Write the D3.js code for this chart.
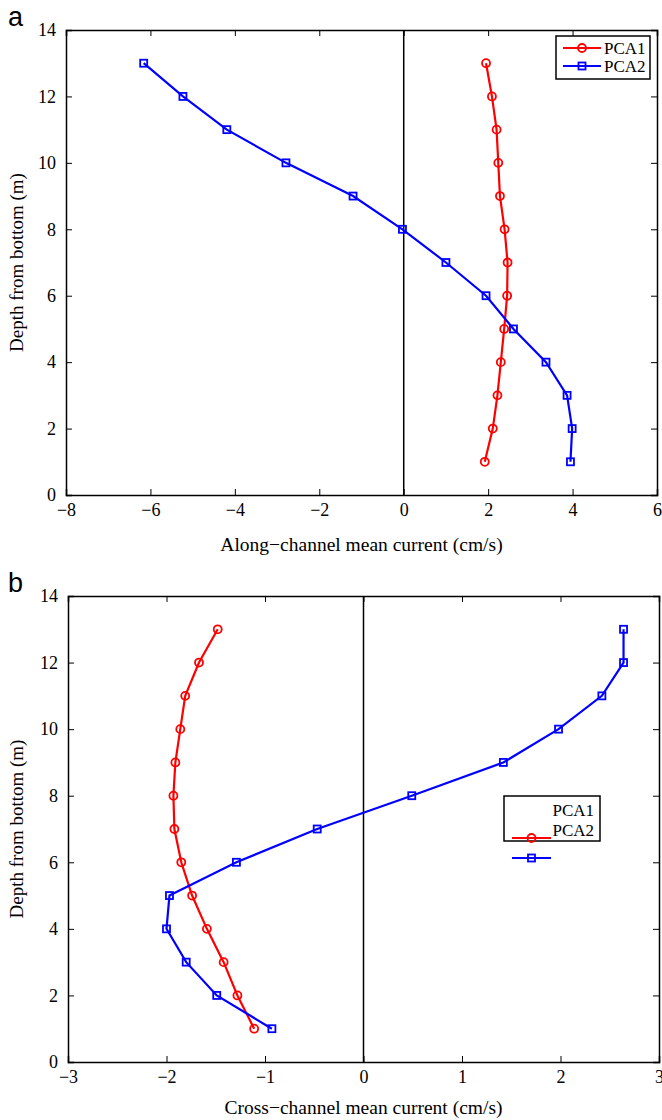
<!DOCTYPE html>
<html>
<head>
<meta charset="utf-8">
<script src="https://cdn.jsdelivr.net/npm/d3@7"></script>
<style>
body { margin: 0; background: #fff; }
svg { display: block; }
</style>
</head>
<body>
<svg id="chart" width="662" height="1120"></svg>
<script>
var depths = [1, 2, 3, 4, 5, 6, 7, 8, 9, 10, 11, 12, 13];
var alongPCA1 = [1.92, 2.11, 2.22, 2.30, 2.38, 2.45, 2.46, 2.39, 2.28, 2.24, 2.20, 2.09, 1.95];
var alongPCA2 = [3.95, 3.99, 3.87, 3.37, 2.60, 1.95, 1.00, -0.03, -1.20, -2.79, -4.19, -5.23, -6.16];
var crossPCA1 = [-1.11, -1.28, -1.42, -1.59, -1.74, -1.85, -1.92, -1.93, -1.91, -1.86, -1.81, -1.67, -1.48];
var crossPCA2 = [-0.93, -1.49, -1.80, -2.00, -1.97, -1.29, -0.47, 0.49, 1.42, 1.98, 2.42, 2.64, 2.64];
var alongTicks = [-8, -6, -4, -2, 0, 2, 4, 6];
var crossTicks = [-3, -2, -1, 0, 1, 2, 3];
var depthTicks = [0, 2, 4, 6, 8, 10, 12, 14];
var seriesNames = ["PCA1", "PCA2"];

var svg = d3.select("#chart");
var intFmt = d3.format("d");
var serif = "'Liberation Serif', 'DejaVu Serif', serif";

function drawPanel(cfg) {
    var x = d3.scaleLinear().domain(cfg.xDomain).range([cfg.left, cfg.right]);
    var y = d3.scaleLinear().domain([0, 14]).range([cfg.bottom, cfg.top]);
    var g = svg.append("g");

    // zero line
    g.append("line")
        .attr("x1", x(0)).attr("x2", x(0))
        .attr("y1", y(0)).attr("y2", y(14))
        .attr("stroke", "#000").attr("stroke-width", 1.5);

    var axes = [
        {axis: d3.axisBottom(x).tickValues(cfg.xTicks).tickSize(-6).tickPadding(8).tickFormat(intFmt), tr: "translate(0," + cfg.bottom + ")"},
        {axis: d3.axisTop(x).tickValues(cfg.xTicks).tickSize(-6).tickFormat(""), tr: "translate(0," + cfg.top + ")"},
        {axis: d3.axisLeft(y).tickValues(depthTicks).tickSize(-6).tickPadding(10).tickFormat(intFmt), tr: "translate(" + cfg.left + ",0)"},
        {axis: d3.axisRight(y).tickValues(depthTicks).tickSize(-6).tickFormat(""), tr: "translate(" + cfg.right + ",0)"}
    ];
    axes.forEach(function(a) {
        var ag = g.append("g").attr("transform", a.tr).call(a.axis)
            .attr("font-family", serif).attr("font-size", 18);
        ag.select(".domain").attr("stroke-width", 1.5);
        ag.selectAll(".tick line").attr("stroke-width", 1);
        ag.selectAll("text").attr("fill", "#000");
    });

    var line = d3.line()
        .x(function(d) { return x(d.v); })
        .y(function(d) { return y(d.depth); });

    var series = [
        {name: "PCA1", color: "#ff0000", values: cfg.s1, marker: "circle"},
        {name: "PCA2", color: "#0000ff", values: cfg.s2, marker: "square"}
    ];
    series.forEach(function(s) {
        var pts = depths.map(function(d, i) { return {depth: d, v: s.values[i]}; });
        g.append("path").datum(pts)
            .attr("d", line)
            .attr("fill", "none")
            .attr("stroke", s.color)
            .attr("stroke-width", 2.2);
        drawMarkers(g, pts.map(function(p) { return [x(p.v), y(p.depth)]; }), s);
    });

    // legend
    var lg = cfg.legend;
    g.append("rect")
        .attr("x", lg.x).attr("y", lg.y).attr("width", lg.w).attr("height", lg.h)
        .attr("fill", "#fff").attr("stroke", "#000").attr("stroke-width", 1.5);
    series.forEach(function(s, i) {
        var ly = lg.lineY + i * lg.step;
        g.append("line")
            .attr("x1", lg.lineX1).attr("x2", lg.lineX2)
            .attr("y1", ly).attr("y2", ly)
            .attr("stroke", s.color).attr("stroke-width", 2.2);
        drawMarkers(g, [[(lg.lineX1 + lg.lineX2) / 2, ly]], s);
        g.append("text")
            .attr("x", lg.textX).attr("y", lg.textY + i * lg.step)
            .attr("text-anchor", lg.anchor)
            .attr("font-family", serif).attr("font-size", 17)
            .text(seriesNames[i]);
    });

    // labels
    g.append("text")
        .attr("x", (cfg.left + cfg.right) / 2).attr("y", cfg.bottom + cfg.labelGap)
        .attr("text-anchor", "middle")
        .attr("font-family", serif).attr("font-size", 19.5)
        .text(cfg.xLabel);
    var cy = (cfg.top + cfg.bottom) / 2;
    g.append("text")
        .attr("transform", "translate(23," + cy + ") rotate(-90)")
        .attr("text-anchor", "middle")
        .attr("font-family", serif).attr("font-size", 19)
        .text("Depth from bottom (m)");
    g.append("text")
        .attr("x", 8).attr("y", cfg.top - 4)
        .attr("font-family", "'Liberation Sans', Arial, sans-serif").attr("font-size", 27)
        .text(cfg.tag);
}

function drawMarkers(g, pts, s) {
    if (s.marker === "circle") {
        g.selectAll(null).data(pts).enter().append("circle")
            .attr("cx", function(p) { return p[0]; })
            .attr("cy", function(p) { return p[1]; })
            .attr("r", 4)
            .attr("fill", "none").attr("stroke", s.color).attr("stroke-width", 1.8);
    } else {
        g.selectAll(null).data(pts).enter().append("rect")
            .attr("x", function(p) { return p[0] - 3.5; })
            .attr("y", function(p) { return p[1] - 3.5; })
            .attr("width", 7).attr("height", 7)
            .attr("fill", "none").attr("stroke", s.color).attr("stroke-width", 1.8);
    }
}

drawPanel({
    tag: "a", left: 66, right: 657, top: 30, bottom: 495, labelGap: 56,
    xDomain: [-8, 6], xTicks: alongTicks, s1: alongPCA1, s2: alongPCA2,
    xLabel: "Along\u2212channel mean current (cm/s)",
    legend: {x: 556, y: 36, w: 94, h: 43, lineX1: 563, lineX2: 601, lineY: 48, step: 18,
             textX: 604, textY: 54, anchor: "start"}
});

drawPanel({
    tag: "b", left: 68, right: 659, top: 596, bottom: 1062, labelGap: 52,
    xDomain: [-3, 3], xTicks: crossTicks, s1: crossPCA1, s2: crossPCA2,
    xLabel: "Cross\u2212channel mean current (cm/s)",
    legend: {x: 504, y: 796, w: 96, h: 45, lineX1: 512, lineX2: 551, lineY: 838, step: 20,
             textX: 594, textY: 816, anchor: "end"}
});
</script>
</body>
</html>
